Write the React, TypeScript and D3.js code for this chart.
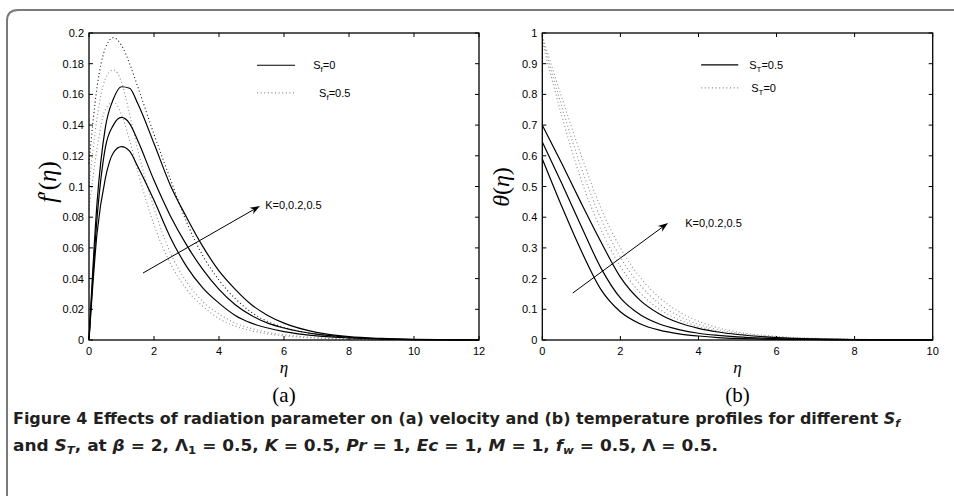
import React from "react";
import * as d3 from "d3";

// ---------- data: panel (a) velocity f'(eta) ----------
const etaA = [0, 0.25, 0.5, 0.75, 1, 1.25, 1.5, 2, 2.5, 3, 3.5, 4, 4.5, 5, 5.5, 6, 7, 8, 9, 10, 12];
const fSolidK0 = [0, 0.07, 0.105, 0.122, 0.126, 0.123, 0.113, 0.091, 0.067, 0.048, 0.034, 0.024, 0.016, 0.011, 0.0078, 0.0055, 0.0027, 0.0013, 0.0006, 0.0002, 0];
const fSolidK02 = [0, 0.08, 0.125, 0.14, 0.145, 0.141, 0.13, 0.104, 0.081, 0.062, 0.046, 0.033, 0.023, 0.016, 0.011, 0.0078, 0.0038, 0.0018, 0.0008, 0.0003, 0];
const fSolidK05 = [0, 0.09, 0.138, 0.157, 0.165, 0.164, 0.154, 0.128, 0.101, 0.08, 0.061, 0.045, 0.033, 0.023, 0.016, 0.011, 0.005, 0.0022, 0.001, 0.0004, 0];
const fDotK0 = [0.085, 0.125, 0.15, 0.155, 0.147, 0.13, 0.11, 0.075, 0.05, 0.033, 0.022, 0.014, 0.009, 0.006, 0.004, 0.0027, 0.0012, 0.0005, 0.0002, 0.0001, 0];
const fDotK02 = [0.1, 0.145, 0.17, 0.176, 0.168, 0.147, 0.124, 0.086, 0.057, 0.038, 0.025, 0.017, 0.011, 0.0075, 0.005, 0.0035, 0.0015, 0.0006, 0.0003, 0.0001, 0];
const fDotK05 = [0.115, 0.165, 0.19, 0.197, 0.192, 0.18, 0.165, 0.134, 0.105, 0.077, 0.055, 0.039, 0.027, 0.018, 0.012, 0.0082, 0.0037, 0.0016, 0.0007, 0.0002, 0];

// ---------- data: panel (b) temperature theta(eta) ----------
const etaB = [0, 0.5, 1, 1.5, 2, 2.5, 3, 3.5, 4, 4.5, 5, 6, 7, 8, 9, 10];
const tSolidK0 = [0.59, 0.435, 0.29, 0.165, 0.092, 0.053, 0.032, 0.02, 0.013, 0.008, 0.005, 0.002, 0.0008, 0.0003, 0.0001, 0];
const tSolidK02 = [0.645, 0.51, 0.37, 0.235, 0.137, 0.083, 0.052, 0.034, 0.022, 0.015, 0.01, 0.0045, 0.002, 0.0009, 0.0004, 0.0001];
const tSolidK05 = [0.7, 0.575, 0.445, 0.32, 0.205, 0.13, 0.085, 0.056, 0.038, 0.026, 0.018, 0.008, 0.0035, 0.0015, 0.0006, 0.0002];
const tDotK0 = [0.97, 0.73, 0.52, 0.36, 0.24, 0.155, 0.1, 0.066, 0.044, 0.029, 0.019, 0.0085, 0.0037, 0.0016, 0.0006, 0.0002];
const tDotK02 = [0.98, 0.76, 0.56, 0.395, 0.27, 0.18, 0.118, 0.078, 0.051, 0.034, 0.022, 0.01, 0.0045, 0.002, 0.0008, 0.0003];
const tDotK05 = [0.99, 0.79, 0.6, 0.43, 0.3, 0.205, 0.138, 0.092, 0.061, 0.04, 0.026, 0.012, 0.0055, 0.0025, 0.001, 0.0004];

// ---------- ticks ----------
const xTicksA = [0, 2, 4, 6, 8, 10, 12];
const yTicksA = [0, 0.02, 0.04, 0.06, 0.08, 0.1, 0.12, 0.14, 0.16, 0.18, 0.2];
const xTicksB = [0, 2, 4, 6, 8, 10];
const yTicksB = [0, 0.1, 0.2, 0.3, 0.4, 0.5, 0.6, 0.7, 0.8, 0.9, 1];

// ---------- annotations (data units) ----------
const arrowA = { from: [1.66, 0.0436], to: [5.26, 0.0873], label: "K=0,0.2,0.5", at: [5.42, 0.088] };
const arrowB = { from: [0.78, 0.153], to: [3.22, 0.381], label: "K=0,0.2,0.5", at: [3.66, 0.381] };
const legendA = [
  { sub: "f", val: "=0", dotted: false, x1: 5.17, x2: 6.34, y: 0.179, tx: 6.9 },
  { sub: "f", val: "=0.5", dotted: true, x1: 5.17, x2: 6.34, y: 0.161, tx: 7.08 },
];
const legendB = [
  { sub: "T", val: "=0.5", dotted: false, x1: 4.07, x2: 5.02, y: 0.896, tx: 5.3 },
  { sub: "T", val: "=0", dotted: true, x1: 4.07, x2: 5.02, y: 0.821, tx: 5.35 },
];

const SANS = "'Liberation Sans', Arial, Helvetica, sans-serif";
const SERIF = "'Liberation Serif', 'Times New Roman', serif";
const DOT = "1 2.6";

type Series = { xs: number[]; ys: number[]; dotted: boolean; color: string };

function fmt(v: number) {
  return String(+v.toFixed(2));
}

function Panel(props: {
  x: d3.ScaleLinear<number, number>;
  y: d3.ScaleLinear<number, number>;
  xTicks: number[];
  yTicks: number[];
  series: Series[];
  legend: typeof legendA;
  arrow: typeof arrowA;
  yLabel: React.ReactNode;
  panelLabel: string;
}) {
  const { x, y, xTicks, yTicks, series, legend, arrow } = props;
  const [x0, x1] = x.range();
  const [y0, y1] = y.range();
  const tl = 4;
  const line = d3
    .line<[number, number]>()
    .x((d) => x(d[0]))
    .y((d) => y(d[1]))
    .curve(d3.curveMonotoneX);
  const ax = x(arrow.from[0]), ay = y(arrow.from[1]);
  const bx = x(arrow.to[0]), by = y(arrow.to[1]);
  const ang = Math.atan2(by - ay, bx - ax);
  const L = 10, Wd = 3.6;
  const cx = Math.cos(ang), sy = Math.sin(ang);
  const head = [
    [bx, by],
    [bx - L * cx - Wd * -sy, by - L * sy - Wd * cx],
    [bx - L * 0.7 * cx, by - L * 0.7 * sy],
    [bx - L * cx + Wd * -sy, by - L * sy + Wd * cx],
  ];
  const midX = (x0 + x1) / 2;
  return (
    <g>
      {series.map((s, i) => (
        <path
          key={i}
          d={line(s.xs.map((v, j) => [v, s.ys[j]] as [number, number])) || ""}
          fill="none"
          stroke={s.color}
          strokeWidth={s.dotted ? 1.1 : 1.2}
          strokeDasharray={s.dotted ? DOT : undefined}
        />
      ))}
      {/* axes box */}
      <rect x={x0} y={y1} width={x1 - x0} height={y0 - y1} fill="none" stroke="#000" strokeWidth={1.3} />
      {xTicks.map((t) => (
        <g key={"x" + t}>
          <line x1={x(t)} x2={x(t)} y1={y0} y2={y0 - tl} stroke="#000" strokeWidth={1} />
          <line x1={x(t)} x2={x(t)} y1={y1} y2={y1 + tl} stroke="#000" strokeWidth={1} />
          <text x={x(t)} y={y0 + 15} textAnchor="middle" fontFamily={SANS} fontSize={11}>
            {fmt(t)}
          </text>
        </g>
      ))}
      {yTicks.map((t) => (
        <g key={"y" + t}>
          <line x1={x0} x2={x0 + tl} y1={y(t)} y2={y(t)} stroke="#000" strokeWidth={1} />
          <line x1={x1} x2={x1 - tl} y1={y(t)} y2={y(t)} stroke="#000" strokeWidth={1} />
          <text x={x0 - 5} y={y(t) + 4} textAnchor="end" fontFamily={SANS} fontSize={11}>
            {fmt(t)}
          </text>
        </g>
      ))}
      {/* legend */}
      {legend.map((l, i) => (
        <g key={"l" + i}>
          <line
            x1={x(l.x1)}
            x2={x(l.x2)}
            y1={y(l.y)}
            y2={y(l.y)}
            stroke={l.dotted ? "#888" : "#000"}
            strokeWidth={1.2}
            strokeDasharray={l.dotted ? DOT : undefined}
          />
          <text x={x(l.tx)} y={y(l.y) + 4} fontFamily={SANS} fontSize={11}>
            S
            <tspan fontSize={8} dy={3}>
              {l.sub}
            </tspan>
            <tspan dy={-3}>{l.val}</tspan>
          </text>
        </g>
      ))}
      {/* arrow */}
      <line x1={ax} y1={ay} x2={bx - 7 * cx} y2={by - 7 * sy} stroke="#000" strokeWidth={1} />
      <polygon points={head.map((p) => p.join(",")).join(" ")} fill="#000" />
      <text x={x(arrow.at[0])} y={y(arrow.at[1]) + 4} fontFamily={SANS} fontSize={11}>
        {arrow.label}
      </text>
      {/* axis labels */}
      <text x={midX} y={y0 + 33} textAnchor="middle" fontFamily={SERIF} fontStyle="italic" fontSize={17}>
        η
      </text>
      {props.yLabel}
      <text x={midX} y={y0 + 62} textAnchor="middle" fontFamily={SERIF} fontSize={21}>
        {props.panelLabel}
      </text>
    </g>
  );
}

export default function App() {
  const xA = d3.scaleLinear().domain([0, 12]).range([89, 479]);
  const yA = d3.scaleLinear().domain([0, 0.2]).range([340, 33]);
  const xB = d3.scaleLinear().domain([0, 10]).range([542.3, 932.7]);
  const yB = d3.scaleLinear().domain([0, 1]).range([340, 33]);

  const seriesA: Series[] = [
    { xs: etaA, ys: fDotK0, dotted: true, color: "#8a8a8a" },
    { xs: etaA, ys: fDotK02, dotted: true, color: "#8a8a8a" },
    { xs: etaA, ys: fDotK05, dotted: true, color: "#111" },
    { xs: etaA, ys: fSolidK0, dotted: false, color: "#000" },
    { xs: etaA, ys: fSolidK02, dotted: false, color: "#000" },
    { xs: etaA, ys: fSolidK05, dotted: false, color: "#000" },
  ];
  const seriesB: Series[] = [
    { xs: etaB, ys: tDotK0, dotted: true, color: "#8a8a8a" },
    { xs: etaB, ys: tDotK02, dotted: true, color: "#8a8a8a" },
    { xs: etaB, ys: tDotK05, dotted: true, color: "#8a8a8a" },
    { xs: etaB, ys: tSolidK0, dotted: false, color: "#000" },
    { xs: etaB, ys: tSolidK02, dotted: false, color: "#000" },
    { xs: etaB, ys: tSolidK05, dotted: false, color: "#000" },
  ];

  const capFont = "'Liberation Sans Narrow', 'DejaVu Sans Condensed', 'Arial Narrow', sans-serif";

  return (
    <svg
      width={954}
      height={496}
      viewBox="0 0 954 496"
      style={{ position: "absolute", left: 0, top: 0, background: "#fff" }}
    >
      <rect x={0} y={0} width={954} height={496} fill="#fff" />
      <path d="M7,500 L7,21 Q7,10 18,10 L960,10" fill="none" stroke="#7a7a7a" strokeWidth={2} />

      <Panel
        x={xA}
        y={yA}
        xTicks={xTicksA}
        yTicks={yTicksA}
        series={seriesA}
        legend={legendA}
        arrow={arrowA}
        panelLabel="(a)"
        yLabel={
          <text
            transform="translate(56,182) rotate(-90)"
            textAnchor="middle"
            fontFamily={SERIF}
            fontSize={25}
          >
            <tspan fontStyle="italic">f</tspan>′(<tspan fontStyle="italic">η</tspan>)
          </text>
        }
      />
      <Panel
        x={xB}
        y={yB}
        xTicks={xTicksB}
        yTicks={yTicksB}
        series={seriesB}
        legend={legendB}
        arrow={arrowB}
        panelLabel="(b)"
        yLabel={
          <text
            transform="translate(509,187) rotate(-90)"
            textAnchor="middle"
            fontFamily={SERIF}
            fontSize={24}
          >
            <tspan fontStyle="italic">θ</tspan>(<tspan fontStyle="italic">η</tspan>)
          </text>
        }
      />

      {/* caption */}
      <text x={13} y={424} fontFamily={capFont} fontWeight="bold" fontSize={16} fill="#231f20" textLength={887} lengthAdjust="spacingAndGlyphs">
        Figure 4  Effects of radiation parameter on (a) velocity and (b) temperature profiles for different{" "}
        <tspan fontStyle="italic">S</tspan>
        <tspan fontStyle="italic" fontSize={11} dy={3}>f</tspan>
      </text>
      <text x={13} y={451} fontFamily={capFont} fontWeight="bold" fontSize={16} fill="#231f20" textLength={705} lengthAdjust="spacingAndGlyphs">
        and <tspan fontStyle="italic">S</tspan>
        <tspan fontStyle="italic" fontSize={11} dy={3}>T</tspan>
        <tspan dy={-3}>, at </tspan>
        <tspan fontStyle="italic">β</tspan> = 2, Λ
        <tspan fontSize={11} dy={3}>1</tspan>
        <tspan dy={-3}> = 0.5, </tspan>
        <tspan fontStyle="italic">K</tspan> = 0.5, <tspan fontStyle="italic">Pr</tspan> = 1,{" "}
        <tspan fontStyle="italic">Ec</tspan> = 1, <tspan fontStyle="italic">M</tspan> = 1,{" "}
        <tspan fontStyle="italic">f</tspan>
        <tspan fontStyle="italic" fontSize={11} dy={3}>w</tspan>
        <tspan dy={-3}> = 0.5, Λ = 0.5.</tspan>
      </text>
    </svg>
  );
}
